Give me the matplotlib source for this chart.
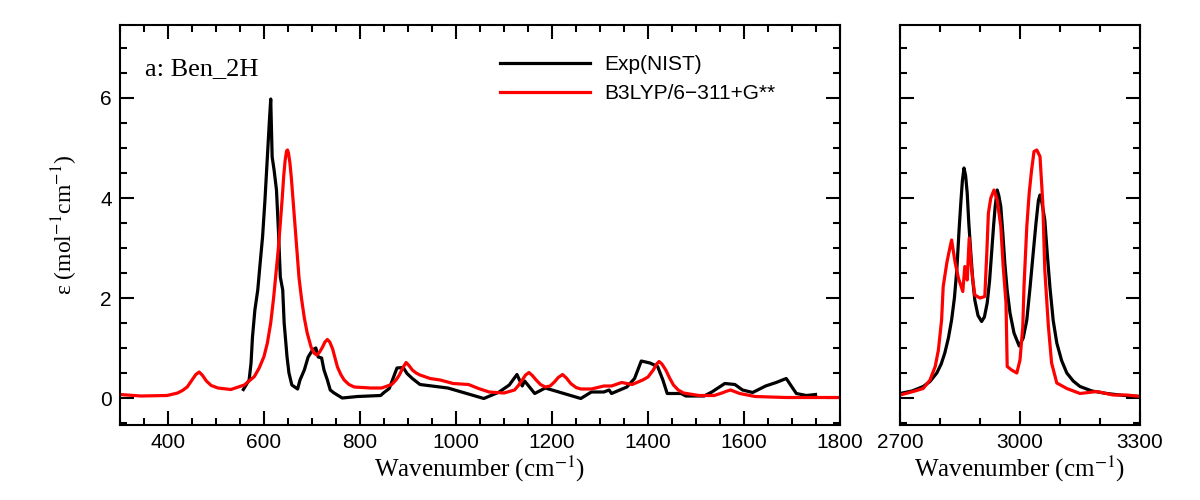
"""
Ben_2H: espectro IR experimental (NIST) contra B3LYP/6-311+G**
"""
import matplotlib
matplotlib.use("Agg")
import matplotlib.pyplot as plt
from matplotlib.ticker import MultipleLocator

# Datos: region 300-1800 cm-1
exp_low_x = [557, 569, 573, 576, 581, 587, 592, 597, 602, 607, 611, 614, 617, 621,
             626, 630, 634, 639, 642, 648, 652, 658, 670, 675, 684, 692, 701, 708,
             713, 720, 725, 732, 738, 746, 763, 795, 843, 850, 861, 877, 890, 898,
             909, 925, 983, 1058, 1090, 1111, 1127, 1138, 1143, 1164, 1186, 1260,
             1282, 1308, 1319, 1324, 1356, 1372, 1386, 1404, 1420, 1431, 1440, 1469,
             1479, 1517, 1533, 1560, 1581, 1597, 1618, 1645, 1667, 1688, 1709, 1730,
             1749]
exp_low_y = [0.17, 0.36, 0.70, 1.22, 1.76, 2.16, 2.70, 3.22, 3.96, 4.82, 5.50, 5.98,
             4.82, 4.56, 4.16, 3.36, 2.42, 2.16, 1.50, 0.82, 0.50, 0.26, 0.18, 0.36,
             0.56, 0.82, 0.96, 1.00, 0.82, 0.80, 0.56, 0.36, 0.16, 0.10, 0.00, 0.03,
             0.05, 0.11, 0.19, 0.60, 0.61, 0.49, 0.39, 0.27, 0.20, -0.01, 0.12, 0.26,
             0.47, 0.24, 0.34, 0.09, 0.20, -0.01, 0.12, 0.12, 0.16, 0.09, 0.22, 0.39,
             0.74, 0.70, 0.63, 0.36, 0.09, 0.09, 0.04, 0.04, 0.12, 0.29, 0.27, 0.16,
             0.11, 0.24, 0.31, 0.39, 0.09, 0.05, 0.07]

calc_low_x = [300, 343, 398, 420, 430, 440, 450, 458, 465, 472, 480, 490, 504, 531,
              559, 580, 590, 600, 607, 614, 620, 625, 630, 634, 638, 641, 644, 647,
              649, 651, 654, 657, 661, 665, 669, 673, 678, 684, 690, 698, 704, 710,
              716, 722, 727, 732, 737, 743, 748, 753, 760, 767, 777, 788, 822, 845,
              866, 875, 882, 889, 896, 902, 909, 917, 925, 946, 967, 994, 1026, 1047,
              1069, 1100, 1122, 1130, 1138, 1145, 1152, 1159, 1167, 1176, 1186, 1196,
              1205, 1213, 1222, 1230, 1239, 1250, 1260, 1282, 1308, 1324, 1345, 1367,
              1389, 1400, 1411, 1418, 1423, 1429, 1437, 1445, 1453, 1463, 1474, 1506,
              1538, 1554, 1565, 1572, 1580, 1591, 1623, 1687, 1800]
calc_low_y = [0.07, 0.04, 0.05, 0.10, 0.15, 0.22, 0.36, 0.47, 0.52, 0.45, 0.34, 0.25,
              0.20, 0.17, 0.26, 0.43, 0.60, 0.83, 1.10, 1.50, 2.00, 2.50, 3.00, 3.50,
              4.00, 4.43, 4.75, 4.94, 4.96, 4.90, 4.70, 4.40, 3.90, 3.40, 2.90, 2.40,
              2.00, 1.60, 1.30, 1.02, 0.90, 0.86, 0.92, 1.02, 1.12, 1.17, 1.12, 0.98,
              0.80, 0.62, 0.47, 0.36, 0.27, 0.22, 0.20, 0.20, 0.27, 0.36, 0.46, 0.60,
              0.71, 0.65, 0.56, 0.50, 0.46, 0.39, 0.36, 0.29, 0.27, 0.19, 0.12, 0.10,
              0.16, 0.25, 0.36, 0.46, 0.51, 0.45, 0.36, 0.27, 0.22, 0.24, 0.32, 0.41,
              0.47, 0.40, 0.29, 0.21, 0.18, 0.18, 0.24, 0.24, 0.31, 0.27, 0.36, 0.42,
              0.56, 0.68, 0.73, 0.68, 0.56, 0.40, 0.26, 0.16, 0.10, 0.05, 0.05, 0.10,
              0.14, 0.16, 0.13, 0.09, 0.03, 0.01, 0.01]

# Region 2700-3300 cm-1
exp_high_x = [2700, 2730, 2758, 2775, 2792, 2803, 2812, 2821, 2829, 2836, 2842, 2848,
              2852, 2856, 2860, 2864, 2868, 2872, 2877, 2882, 2887, 2895, 2904, 2911,
              2918, 2924, 2929, 2934, 2938, 2943, 2947, 2952, 2957, 2962, 2968, 2975,
              2985, 2998, 3008, 3017, 3025, 3033, 3040, 3046, 3050, 3055, 3062, 3068,
              3075, 3083, 3092, 3104, 3117, 3133, 3150, 3180, 3217, 3260, 3300]
exp_high_y = [0.09, 0.14, 0.23, 0.33, 0.50, 0.68, 0.90, 1.20, 1.56, 2.00, 2.56, 3.40,
              3.90, 4.35, 4.60, 4.45, 4.10, 3.50, 2.90, 2.35, 1.96, 1.65, 1.53, 1.62,
              1.90, 2.35, 2.90, 3.45, 3.83, 4.16, 4.05, 3.83, 3.30, 2.70, 2.15, 1.70,
              1.30, 1.04, 1.20, 1.56, 2.20, 2.90, 3.50, 3.95, 4.06, 3.90, 3.56, 2.90,
              2.20, 1.55, 1.10, 0.75, 0.50, 0.34, 0.23, 0.14, 0.09, 0.05, 0.03]

calc_high_x = [2700, 2733, 2758, 2775, 2788, 2796, 2804, 2808, 2817, 2822, 2829, 2838,
               2846, 2857, 2862, 2868, 2873, 2879, 2887, 2900, 2912, 2917, 2921, 2927,
               2935, 2943, 2952, 2958, 2965, 2968, 2979, 2992, 3000, 3007, 3010, 3017,
               3023, 3029, 3035, 3042, 3050, 3057, 3062, 3071, 3079, 3092, 3117, 3150,
               3192, 3233, 3267, 3300]
calc_high_y = [0.06, 0.13, 0.19, 0.36, 0.63, 0.96, 1.56, 2.23, 2.70, 2.90, 3.16, 2.70,
               2.40, 2.13, 2.63, 2.36, 3.20, 2.56, 2.06, 2.00, 2.03, 2.90, 3.70, 4.00,
               4.16, 3.96, 3.43, 2.63, 1.90, 0.63, 0.56, 0.50, 0.76, 1.43, 2.23, 3.43,
               4.10, 4.56, 4.93, 4.96, 4.83, 3.90, 2.56, 1.43, 0.70, 0.30, 0.19, 0.09,
               0.13, 0.06, 0.06, 0.03]

label_exp = 'Exp(NIST)'
label_calc = 'B3LYP/6\u2212311+G**'
panel_text = 'a: Ben_2H'

# Estilo
plt.rcParams['font.family'] = ['Liberation Sans', 'DejaVu Sans']
plt.rcParams['mathtext.fontset'] = 'stix'
plt.rcParams['axes.linewidth'] = 1.5
serif = ['Liberation Serif', 'DejaVu Serif']

fig = plt.figure(figsize=(12, 5), dpi=100)
ax1 = fig.add_axes([0.10, 0.15, 0.60, 0.80])
ax2 = fig.add_axes([0.75, 0.15, 0.20, 0.80])

lw = 2.3
ax1.plot(exp_low_x, exp_low_y, color='black', lw=lw, label=label_exp)
ax1.plot(calc_low_x, calc_low_y, color='red', lw=lw, label=label_calc)
ax2.plot(exp_high_x, exp_high_y, color='black', lw=lw)
ax2.plot(calc_high_x, calc_high_y, color='red', lw=lw)

ax1.set_xlim(300, 1800)
ax2.set_xlim(2700, 3300)
for ax in (ax1, ax2):
    ax.set_ylim(-0.54, 7.46)
    ax.yaxis.set_major_locator(MultipleLocator(2))
    ax.yaxis.set_minor_locator(MultipleLocator(0.5))
    ax.tick_params(which='both', direction='in', top=True, right=True,
                   width=1.5, labelsize=15)
    ax.tick_params(which='major', length=10, pad=6)
    ax.tick_params(which='minor', length=5)
    ax.set_xlabel('Wavenumber (cm$^{-1}$)', family=serif, fontsize=18, labelpad=1)

ax1.xaxis.set_major_locator(MultipleLocator(200))
ax1.xaxis.set_minor_locator(MultipleLocator(50))
ax2.xaxis.set_major_locator(MultipleLocator(300))
ax2.xaxis.set_minor_locator(MultipleLocator(100))
ax2.tick_params(axis='y', labelleft=False)

ax1.set_ylabel('\u03b5 (mol$^{-1}$cm$^{-1}$)', family=serif, fontsize=17, labelpad=14)
ax1.text(0.035, 0.89, panel_text, transform=ax1.transAxes, family=serif,
         fontsize=19, va='center', ha='left')

ax1.legend(loc='upper left', bbox_to_anchor=(0.528, 0.925), frameon=False,
           fontsize=15, handlelength=4.3, handletextpad=0.7, labelspacing=0.5,
           borderpad=0, borderaxespad=0)

plt.savefig('out.png', dpi=100)
plt.close()
